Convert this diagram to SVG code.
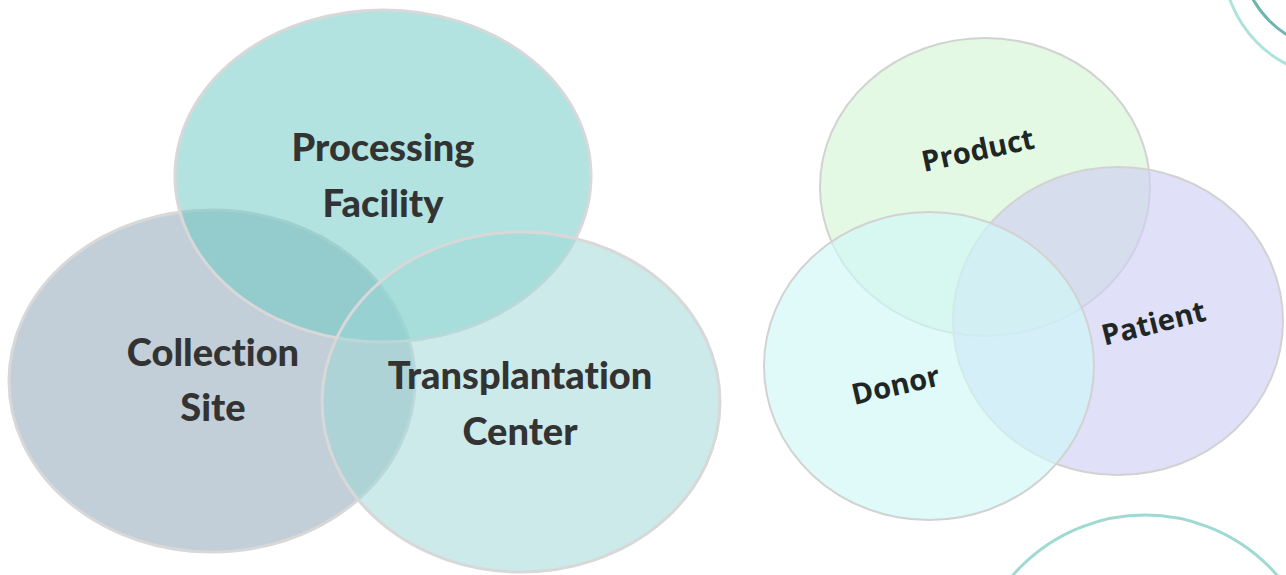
<svg xmlns="http://www.w3.org/2000/svg" width="1286" height="575" viewBox="0 0 1286 575">
  <style>
    .ring-l { stroke: #d8d8d8; stroke-width: 3; }
    .ring-r { stroke: #d2d2d2; stroke-width: 2; }
    .lbl-l { font-family: Lato, "Open Sans", sans-serif; font-weight: 900; font-size: 38px; fill: #333333; text-anchor: middle; font-variant-ligatures: none; }
    .lbl-r { font-family: "Open Sans", "Noto Sans", sans-serif; font-weight: 700; font-size: 29px; fill: #1e2626; text-anchor: middle; }
    .deco { fill: none; stroke-width: 3; }
  </style>
  <rect width="1286" height="575" fill="#ffffff"/>

  <!-- Left Venn: facilities -->
  <g id="collection-site">
    <ellipse cx="212" cy="381" rx="203" ry="171" fill="#c2ced8" class="ring-l"/>
  </g>
  <g id="processing-facility">
    <ellipse cx="383" cy="176" rx="208" ry="166" fill="#65c7c1" fill-opacity="0.5" class="ring-l"/>
  </g>
  <g id="transplantation-center">
    <ellipse cx="521" cy="402" rx="199" ry="170" fill="#9dd7d5" fill-opacity="0.53" class="ring-l"/>
  </g>
  <g id="left-labels">
    <text class="lbl-l" x="383" y="161">Processing</text>
    <text class="lbl-l" x="383" y="217">Facility</text>
    <text class="lbl-l" x="213" y="366">Collection</text>
    <text class="lbl-l" x="213" y="421">Site</text>
    <text class="lbl-l" x="520" y="389">Transplantation</text>
    <text class="lbl-l" x="520" y="445">Center</text>
  </g>

  <!-- Right Venn: entities -->
  <g id="product">
    <ellipse cx="985" cy="187" rx="165" ry="149" fill="#d0f5d0" fill-opacity="0.6" class="ring-r"/>
  </g>
  <g id="patient">
    <ellipse cx="1118" cy="321" rx="165" ry="154" fill="#d0d0f5" fill-opacity="0.65" class="ring-r"/>
  </g>
  <g id="donor">
    <ellipse cx="929" cy="366" rx="165" ry="154" fill="#cff7f7" fill-opacity="0.65" class="ring-r"/>
  </g>
  <g id="right-labels">
    <text class="lbl-r" transform="translate(980 160) rotate(-12)">Product</text>
    <text class="lbl-r" transform="translate(1156 333) rotate(-14)">Patient</text>
    <text class="lbl-r" transform="translate(898 395) rotate(-13)">Donor</text>
  </g>

  <!-- Decorative rings at the right edge -->
  <g id="decor">
    <circle cx="1340" cy="-40" r="117" class="deco" stroke="#aee3db"/>
    <circle cx="1340" cy="-50" r="100" class="deco" stroke="#6db5ad"/>
    <circle cx="1145" cy="690" r="175" class="deco" stroke="#9fdad2"/>
  </g>
</svg>
